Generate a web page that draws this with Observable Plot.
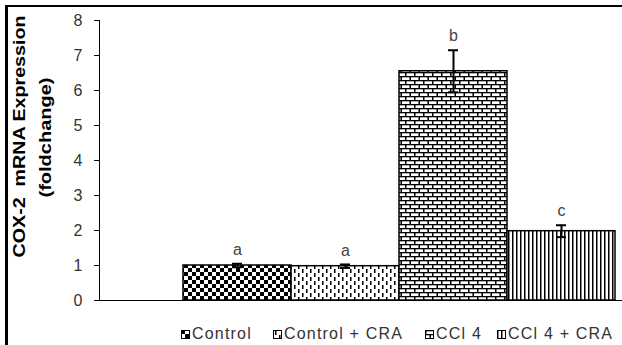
<!DOCTYPE html>
<html><head><meta charset="utf-8">
<script src="https://cdn.jsdelivr.net/npm/d3@7"></script>
<script src="https://cdn.jsdelivr.net/npm/@observablehq/plot@0.6"></script>
<style>
body{margin:0;background:#fff;font-family:"Liberation Sans",Arial,sans-serif;}
#wrap{position:relative;width:622px;height:345px;overflow:hidden;background:#fff;}
#wrap svg.plot{position:absolute;left:0;top:0;}
.bl{position:absolute;left:5px;top:5px;width:3px;height:340px;background:#000}
.bt{position:absolute;left:5px;top:5px;width:617px;height:2px;background:#000}
.lg{position:absolute;top:326px;height:16px;display:flex;align-items:center;font-size:16px;color:#333;letter-spacing:1.2px;white-space:nowrap;}
.lg svg{margin-right:2px;}
</style></head><body><div id="wrap"><div class="bl"></div><div class="bt"></div></div>
<script>
const categories = ["Control", "Control + CRA", "CCl 4", "CCl 4 + CRA"];
const values = [1.0, 0.98, 6.55, 1.98];
const errors = [0.05, 0.05, 0.6, 0.17];
const letters = ["a", "a", "b", "c"];
const yTicks = [0, 1, 2, 3, 4, 5, 6, 7, 8];
const yLabel1 = "COX-2  mRNA Expression";
const yLabel2 = "(foldchange)";

const data = categories.map((c, i) => ({cat: c, value: values[i], err: errors[i], letter: letters[i], pat: `url(#pat${i})`}));

const plot = Plot.plot({
  width: 622, height: 320,
  marginLeft: 99, marginRight: 0, marginTop: 20, marginBottom: 20,
  style: {fontFamily: "Liberation Sans, Arial, sans-serif", background: "transparent", overflow: "visible"},
  x: {domain: categories, range: [181, 616], padding: 0, axis: null},
  y: {domain: [0, 8], label: null},
  color: {type: "identity"},
  marks: [
    Plot.barY(data, {x: "cat", y: "value", fill: "pat", stroke: "black", strokeWidth: 1.5}),
    Plot.ruleX(data, {x: "cat", y1: d => d.value - d.err, y2: d => d.value + d.err, stroke: "black", strokeWidth: 2}),
    Plot.tickY(data, {x: "cat", y: d => d.value + d.err, stroke: "black", strokeWidth: 2, insetLeft: 49, insetRight: 49}),
    Plot.tickY(data, {x: "cat", y: d => d.value - d.err, stroke: "black", strokeWidth: 2, insetLeft: 49, insetRight: 49}),
    Plot.text(data, {x: "cat", y: d => d.value + d.err, text: "letter", dy: -14, fontSize: 16, fill: "#444"}),
    Plot.axisY({ticks: yTicks, tickSize: 5, tickPadding: 12, fontSize: 16, label: null}),
    Plot.ruleY([0], {stroke: "black"}),
    Plot.frame({anchor: "left", stroke: "black"}),
    Plot.text([yLabel1], {text: d => d, frameAnchor: "left", textAnchor: "middle", rotate: -90, dx: -80, dy: -24, fontWeight: "bold", fontSize: 17, fill: "black"}),
    Plot.text([yLabel2], {text: d => d, frameAnchor: "left", textAnchor: "middle", rotate: -90, dx: -54, dy: -23, fontWeight: "bold", fontSize: 17, fill: "black"})
  ]
});

// patterns
const ns = "http://www.w3.org/2000/svg";
const defs = document.createElementNS(ns, "defs");
defs.innerHTML = `
<pattern id="pat0" patternUnits="userSpaceOnUse" width="8" height="8">
  <rect width="8" height="8" fill="#fff"/>
  <rect x="0" y="0" width="4" height="4" fill="#000"/>
  <rect x="4" y="4" width="4" height="4" fill="#000"/>
</pattern>
<pattern id="pat1" patternUnits="userSpaceOnUse" width="8" height="8">
  <rect width="8" height="8" fill="#fff"/>
  <rect x="2" y="1" width="1.5" height="4" fill="#000"/>
  <rect x="6" y="5" width="1.5" height="4" fill="#000"/>
  <rect x="6" y="-3" width="1.5" height="4" fill="#000"/>
</pattern>
<pattern id="pat2" patternUnits="userSpaceOnUse" width="9" height="8">
  <rect width="9" height="8" fill="#fff"/>
  <rect x="0" y="0" width="9" height="1.3" fill="#000"/>
  <rect x="0" y="4" width="9" height="1.3" fill="#000"/>
  <rect x="0" y="0" width="1.5" height="4" fill="#000"/>
  <rect x="4.5" y="4" width="1.5" height="4" fill="#000"/>
</pattern>
<pattern id="pat3" patternUnits="userSpaceOnUse" width="4" height="4">
  <rect width="4" height="4" fill="#fff"/>
  <rect x="0" y="0" width="1.5" height="4" fill="#000"/>
</pattern>`;
plot.insertBefore(defs, plot.firstChild);

// y label stretch
plot.querySelectorAll("text").forEach(t => {
  if (t.textContent === yLabel1) { t.setAttribute("textLength", 242); t.setAttribute("lengthAdjust", "spacingAndGlyphs"); }
  if (t.textContent === yLabel2) { t.setAttribute("textLength", 120); t.setAttribute("lengthAdjust", "spacingAndGlyphs"); }
});
plot.querySelectorAll('g[aria-label="y-axis tick label"] text').forEach(t => t.setAttribute("fill", "#333"));

const wrap = document.getElementById("wrap");
wrap.insertBefore(plot, wrap.firstChild);

// legend
const legendX = [181, 273, 425, 497];
categories.forEach((c, i) => {
  const d = document.createElement("div");
  d.className = "lg";
  d.style.left = legendX[i] + "px";
  d.innerHTML = `<svg width="9" height="9"><rect x="0.5" y="0.5" width="8" height="8" fill="url(#pat${i})" stroke="#000"/></svg><span>${c}</span>`;
  wrap.appendChild(d);
});
</script></body></html>
